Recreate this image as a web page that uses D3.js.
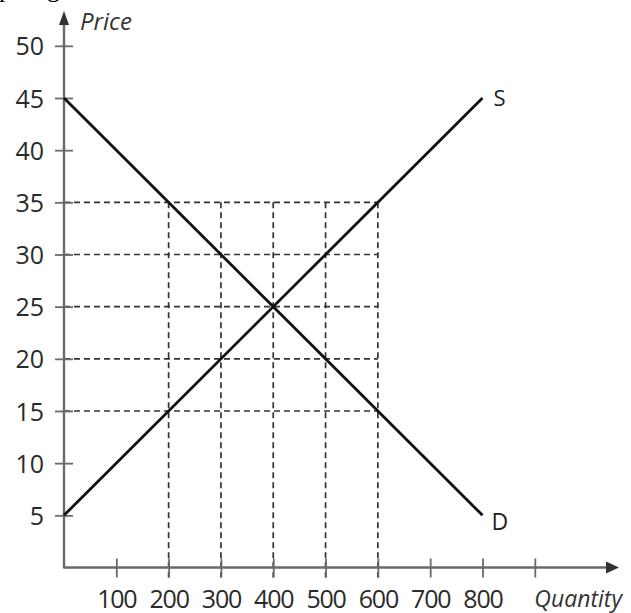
<!DOCTYPE html>
<html><head><meta charset="utf-8">
<script src="https://cdn.jsdelivr.net/npm/d3@7"></script>
<style>body{margin:0;background:#fff;}svg{display:block;}</style>
</head><body>
<script>
const xTicks = [100, 200, 300, 400, 500, 600, 700, 800, 900];
const xTickLabels = ["100","200","300","400","500","600","700","800",""];
const yTicks = [5, 10, 15, 20, 25, 30, 35, 40, 45, 50];
const demand = [{q:0, p:45}, {q:800, p:5}];
const supply = [{q:0, p:5}, {q:800, p:45}];
const guideQ = [200, 300, 400, 500, 600];
const guideP = [15, 20, 25, 30, 35];
const guideMaxQ = 600, guideMaxP = 35;

const W = 631, H = 613;
const svg = d3.select("body").append("svg").attr("width", W).attr("height", H);
const x = d3.scaleLinear().domain([0, 800]).range([64, 482.5]);
const y = d3.scaleLinear().domain([0, 45]).range([567.5, 98]);
const font = "'Open Sans', Lato, sans-serif";

// clipped text fragment at top (descenders of text above the chart)
svg.append("text").attr("x", -1).attr("y", -3).attr("font-family", "'Liberation Serif', serif")
  .attr("font-size", 26).attr("fill", "#000").text("p");
svg.append("text").attr("x", 47).attr("y", -3).attr("font-family", "'Liberation Serif', serif")
  .attr("font-size", 26).attr("fill", "#000").text("g");

const axisColor = "#6a6a6a";
const dash = "6,4";
guideP.forEach(p => {
  svg.append("line").attr("x1", x(0)).attr("x2", x(guideMaxQ)).attr("y1", y(p)).attr("y2", y(p))
    .attr("stroke", "#333").attr("stroke-width", 1.7).attr("stroke-dasharray", dash);
});
guideQ.forEach(q => {
  svg.append("line").attr("x1", x(q)).attr("x2", x(q)).attr("y1", y(guideMaxP)).attr("y2", y(0) + 10)
    .attr("stroke", "#333").attr("stroke-width", 1.7).attr("stroke-dasharray", dash);
});

// axes
svg.append("line").attr("x1", x(0)).attr("x2", 608).attr("y1", y(0)).attr("y2", y(0))
  .attr("stroke", axisColor).attr("stroke-width", 2.4);
svg.append("path").attr("d", `M619,${y(0)} L606,${y(0)-6} L606,${y(0)+6} Z`).attr("fill", "#333");
svg.append("line").attr("x1", x(0)).attr("x2", x(0)).attr("y1", y(0) + 1).attr("y2", 22)
  .attr("stroke", axisColor).attr("stroke-width", 2.4);
svg.append("path").attr("d", `M${x(0)},11 L${x(0)-5},25 L${x(0)+5},25 Z`).attr("fill", "#333");

const xAxis = d3.axisBottom(x).tickValues(xTicks).tickSize(0).tickFormat((d, i) => xTickLabels[i]);
const gx = svg.append("g").attr("transform", `translate(0,${y(0)})`).call(xAxis);
gx.select(".domain").remove();
gx.selectAll(".tick text").attr("font-family", font).attr("font-size", 25).attr("fill", "#2a2a2a")
  .attr("letter-spacing", -1.2).attr("dy", 0).attr("y", 40);
gx.selectAll(".tick").append("line").attr("y1", -9).attr("y2", 10).attr("stroke", axisColor).attr("stroke-width", 1.8);

const yAxis = d3.axisLeft(y).tickValues(yTicks).tickSize(0).tickFormat(d3.format("d"));
const gy = svg.append("g").attr("transform", `translate(${x(0)},0)`).call(yAxis);
gy.select(".domain").remove();
gy.selectAll(".tick text").attr("font-family", font).attr("font-size", 25).attr("fill", "#2a2a2a")
  .attr("x", -20).attr("dy", "0.36em");
gy.selectAll(".tick").append("line").attr("x1", -9).attr("x2", 9).attr("stroke", axisColor).attr("stroke-width", 1.8);

// curves
const line = d3.line().x(d => x(d.q)).y(d => y(d.p));
[demand, supply].forEach(s => {
  svg.append("path").attr("d", line(s)).attr("fill", "none").attr("stroke", "#111").attr("stroke-width", 2.8);
});
svg.append("text").attr("x", x(800) + 11).attr("y", y(45) + 8).attr("font-family", font).attr("font-size", 22).attr("fill", "#222").text("S");
svg.append("text").attr("x", x(800) + 9).attr("y", y(5) + 15).attr("font-family", font).attr("font-size", 23).attr("fill", "#222").text("D");

// axis titles
svg.append("text").attr("x", 80).attr("y", 30).attr("font-family", font).attr("font-style", "italic")
  .attr("font-size", 24).attr("fill", "#333").text("Price");
svg.append("text").attr("x", 622).attr("y", 607).attr("text-anchor", "end").attr("font-family", font).attr("font-style", "italic")
  .attr("font-size", 23).attr("fill", "#333").text("Quantity");
</script>
</body></html>
